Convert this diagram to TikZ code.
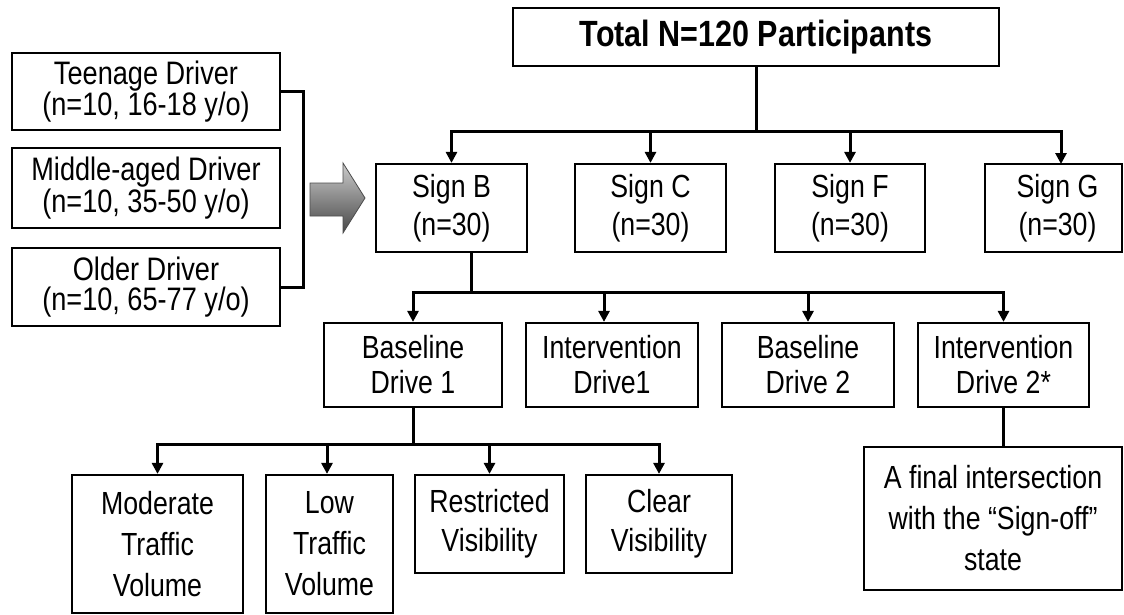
\documentclass[tikz,border=0pt]{standalone}
\usepackage{fontspec}
\setmainfont{Liberation Sans}[FakeStretch=0.835]
\usetikzlibrary{arrows.meta}
\begin{document}
\begin{tikzpicture}[x=1pt,y=-1pt,
  box/.style={draw=black, line width=2.2pt, fill=white, inner sep=0pt, align=center,
    font=\fontsize{32}{39}\selectfont},
  leftbox/.style={box, minimum width=268pt, font=\fontsize{32.5}{30}\selectfont},
  signbox/.style={box, minimum height=88pt, font=\fontsize{32}{38}\selectfont},
  drivebox/.style={box, minimum height=84pt, font=\fontsize{32}{35}\selectfont},
  conn/.style={line width=3pt},
  arr/.style={conn, -{Triangle[width=11pt,length=11pt]}},
]
\useasboundingbox[fill=white] (0,0) rectangle (1124,615);

% top
\node[box, minimum width=486pt, minimum height=58pt, font=\bfseries\fontsize{36.5}{40}\selectfont]
  (total) at (756,37) {Total N=120 Participants};

% left group
\node[leftbox, minimum height=77pt] (teen) at (146,91.5) {Teenage Driver\\(n=10, 16-18 y/o)};
\node[leftbox, minimum height=80pt] (mid) at (146,188) {Middle-aged Driver\\(n=10, 35-50 y/o)};
\node[leftbox, minimum height=78pt] (old) at (146,287) {Older Driver\\(n=10, 65-77 y/o)};
\coordinate (bx) at (303,190);

% grey arrow
\shade[top color=gray!40, bottom color=black!72, draw=black!70, line width=0.8pt]
  (310,183) -- (343,183) -- (343,163) -- (365,198) -- (343,233) -- (343,216) -- (310,216) -- cycle;

% signs
\node[signbox, minimum width=151pt] (signB) at (451.5,208) {Sign B\\(n=30)};
\node[signbox, minimum width=151pt] (signC) at (650.5,208) {Sign C\\(n=30)};
\node[signbox, minimum width=150pt] (signF) at (850,208) {Sign F\\(n=30)};
\node[signbox, minimum width=137pt] (signG) at (1053.5,208) {\hspace*{8pt}Sign G\\\hspace*{8pt}(n=30)};
\coordinate (gIn) at (1061,164);

% drives
\node[drivebox, minimum width=178pt] (base1) at (413,365) {Baseline\\Drive 1};
\node[drivebox, minimum width=172pt] (int1) at (612,365) {Intervention\\Drive1};
\node[drivebox, minimum width=172pt] (base2) at (808,365) {Baseline\\Drive 2};
\node[drivebox, minimum width=171pt] (int2) at (1003.5,365) {Intervention\\Drive 2*};

% conditions
\node[box, minimum width=171pt, minimum height=138pt, font=\fontsize{32}{41}\selectfont]
  (mod) at (157.5,544) {Moderate\\Traffic\\Volume};
\node[box, minimum width=127pt, minimum height=138pt, font=\fontsize{32}{41}\selectfont]
  (low) at (329.5,544) {Low\\Traffic\\Volume};
\node[box, minimum width=149pt, minimum height=98pt] (restr) at (489.5,524) {Restricted\\Visibility};
\node[box, minimum width=146pt, minimum height=98pt] (clear) at (659,524) {Clear\\Visibility};
\node[box, minimum width=258pt, minimum height=143pt, font=\fontsize{32}{41}\selectfont]
  (signoff) at (993,518.5) {A final intersection\\with the “Sign-off”\\state};

% connectors: left bracket
\draw[conn] (teen.east) -| (bx) |- (old.east);

% level 1
\draw[conn] (total.south) -- ++(0,64) coordinate (j1);
\draw[arr] (j1) -| (signB.north);
\draw[arr] (j1) -| (signC.north);
\draw[arr] (j1) -| (signF.north);
\draw[arr] (j1) -| (gIn);

% level 2
\draw[conn] ([xshift=19.5pt]signB.south) -- ++(0,39) coordinate (j2);
\draw[arr] (j2) -| (base1.north);
\draw[arr] (j2) -| ([xshift=-8pt]int1.north);
\draw[arr] (j2) -| (base2.north);
\draw[arr] (j2) -| (int2.north);

% level 3
\draw[conn] (base1.south) -- ++(0,36) coordinate (j3);
\draw[arr] (j3) -| (mod.north);
\draw[arr] (j3) -| ([xshift=-2.5pt]low.north);
\draw[arr] (j3) -| (restr.north);
\draw[arr] (j3) -| (clear.north);

\draw[conn] (int2.south) -- (signoff.north -| int2.south);
\end{tikzpicture}
\end{document}
